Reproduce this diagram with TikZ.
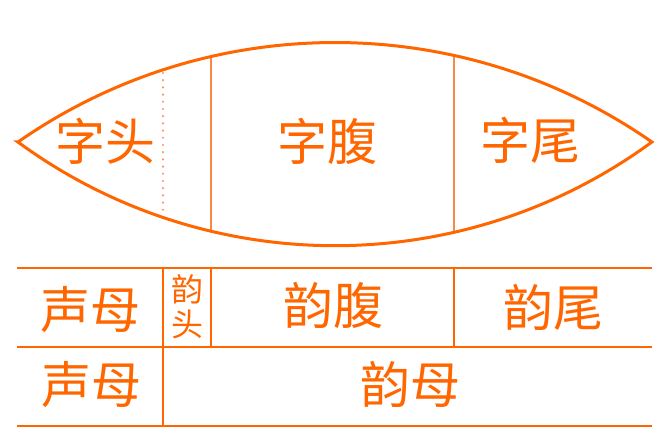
\documentclass[tikz,border=0pt]{standalone}
\usepackage{fontspec}
\newfontfamily\cjk{Noto Sans CJK SC}
\definecolor{og}{RGB}{255,102,0}
\definecolor{oglight}{RGB}{250,135,70}
\definecolor{ogdot}{RGB}{248,150,100}
\begin{document}
\begin{tikzpicture}[x=1pt,y=1pt,
  lens/.style={draw=og, line width=3pt, line join=miter},
  divider/.style={draw=oglight, line width=2pt},
  dotline/.style={draw=ogdot, line width=2.4pt, line cap=round, dash pattern=on 0pt off 7.2pt},
  rule/.style={draw=og, line width=2pt},
  big/.style={text=og, font=\cjk\fontsize{50}{50}\selectfont, inner sep=0pt},
  small/.style={text=og, font=\cjk\fontsize{32}{35}\selectfont, inner sep=0pt, align=center}]
\useasboundingbox (0,0) rectangle (661,447);
% lens
\begin{scope}
  \clip (18,305) arc[start angle=124.85, end angle=55.15, radius=554.7]
        arc[start angle=-53.77, end angle=-126.23, radius=536.4] -- cycle;
  \draw[divider] (211,447) -- (211,0);
  \draw[divider] (454,447) -- (454,0);
\end{scope}
\draw[dotline] (163,374) -- (163,234);
\path[lens] (18,305) arc[start angle=124.85, end angle=55.15, radius=554.7]
        arc[start angle=-53.77, end angle=-126.23, radius=536.4] -- cycle;
\node[big] (zitou) at (105.5,306) {字头};
\node[big] (zifu) at (327.5,306) {字腹};
\node[big] (ziwei) at (530,306.5) {字尾};
% table
\draw[rule] (17,179) -- (652,179);
\draw[rule] (17,100) -- (652,100);
\draw[rule] (17,21) -- (652,21);
\draw[rule] (163,179) -- (163,21);
\draw[rule] (211,179) -- (211,100);
\draw[rule] (454,179) -- (454,100);
\node[big] (shengmu1) at (90,137) {声母};
\node[small] (yuntou) at (187,140.5) {韵\\头};
\node[big] (yunfu) at (333.5,142) {韵腹};
\node[big] (yunwei) at (553.5,139.5) {韵尾};
\node[big] (shengmu2) at (91.5,62.5) {声母};
\node[big] (yunmu) at (410.5,62.5) {韵母};
\end{tikzpicture}
\end{document}
